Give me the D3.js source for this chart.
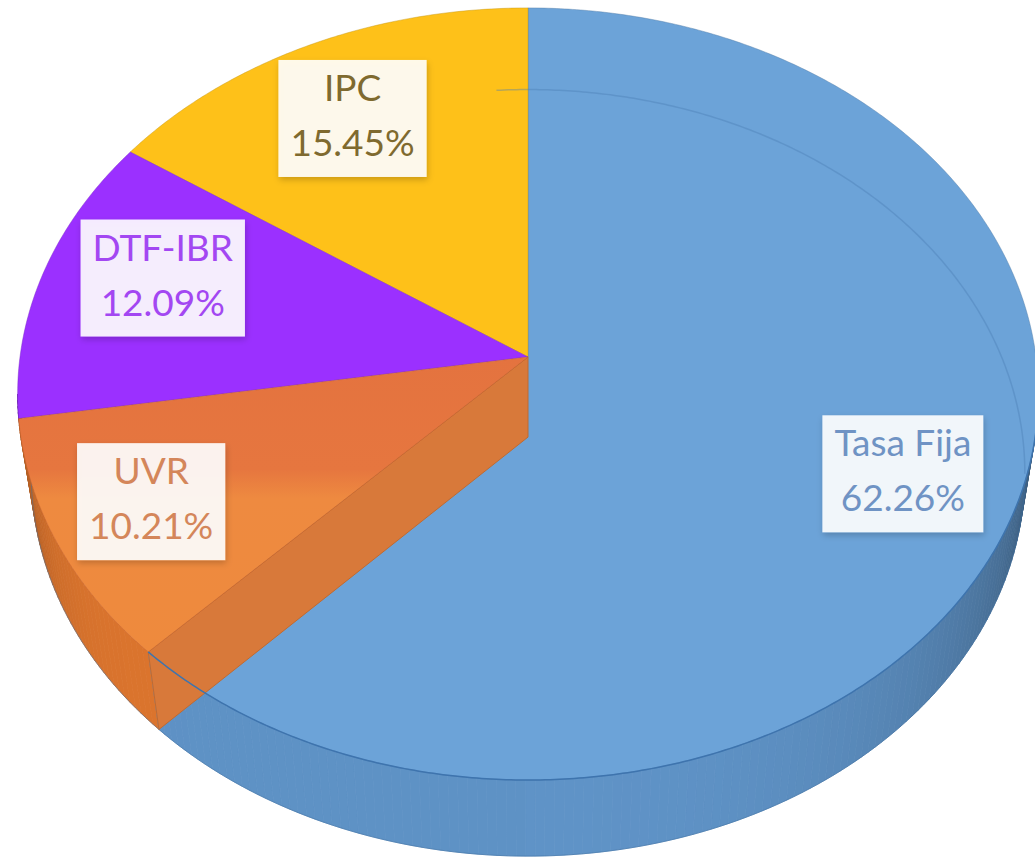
<!DOCTYPE html>
<html>
<head>
<meta charset="utf-8">
<script src="https://cdn.jsdelivr.net/npm/d3@7"></script>
<style>
  html, body { margin: 0; padding: 0; background: #ffffff; }
  svg { display: block; }
  .lbl { font-family: Lato, "Open Sans", sans-serif; font-size: 37px; }
</style>
</head>
<body>
<svg id="chart" width="1035" height="857"></svg>
<script>
// data
var categories = ['Tasa Fija', 'UVR', 'DTF-IBR', 'IPC'];
var shares = [62.26, 10.21, 12.09, 15.45];

// styles
var topColors = ['#6ca3d8', '#ea7f3f', '#9b30ff', '#fec119'];
var sideColors = ['#6196cb', '#e2782f', '#8a28e6', '#eeb010'];
var textColors = ['#6f93c4', '#d4865a', '#a347f2', '#7f6a2f'];

// perspective set-up of the tilted disc
var cx = 528, cy = 357;
var R = 500, H = 123, D = 3434, F = 3489;
var sinT = 0.753, cosT = 0.658;
var deg = Math.PI / 180;

function project(theta, r, y){
    // theta clockwise from the far side, y = 0 on the top face, negative downwards
    var X = r * Math.sin(theta), Z = r * Math.cos(theta);
    var yc = Z * sinT + y * cosT;
    var zc = D + Z * cosT - y * sinT;
    return [cx + F * X / zc, cy - F * yc / zc];
}

function arcPoints(a0, a1, r, y){
    var n = Math.max(2, Math.ceil(Math.abs(a1 - a0) / (0.5 * deg)));
    return d3.range(n + 1).map(function(i){ return project(a0 + (a1 - a0) * i / n, r, y); });
}

var line = d3.line().curve(d3.curveLinearClosed);
var openLine = d3.line();

var svg = d3.select('#chart');
var defs = svg.append('defs');
var shadow = defs.append('filter').attr('id', 'shadow')
    .attr('x', '-20%').attr('y', '-20%').attr('width', '140%').attr('height', '150%');
shadow.append('feDropShadow').attr('dx', 1).attr('dy', 3).attr('stdDeviation', 3)
    .attr('flood-color', '#000').attr('flood-opacity', 0.22);

var orangeGrad = defs.append('linearGradient').attr('id', 'orangeTop')
    .attr('x1', 0).attr('y1', 0).attr('x2', 0).attr('y2', 1);
orangeGrad.append('stop').attr('offset', '0%').attr('stop-color', '#e4733f');
orangeGrad.append('stop').attr('offset', '38%').attr('stop-color', '#e6763f');
orangeGrad.append('stop').attr('offset', '48%').attr('stop-color', '#ee8a40');
orangeGrad.append('stop').attr('offset', '100%').attr('stop-color', '#ee8a3d');

var pie = d3.pie().sort(null).value(function(d){ return d; });
var arcs = pie(shares);

// silhouette of the side wall
var silhouette = Math.acos(-R * cosT / D);
var visLo = silhouette, visHi = 2 * Math.PI - silhouette;

function sideShade(theta){
    var t = theta / deg;
    if (t < 180) return 0.06 + 1.6 * Math.pow((180 - t) / 85, 2.5);
    return 0.08 + 1.3 * Math.pow((t - 180) / 85, 7);
}

// side wall, drawn as thin quads from back to front
var sideG = svg.append('g');
var quads = [];
arcs.forEach(function(a, i){
    var a0 = Math.max(a.startAngle, visLo), a1 = Math.min(a.endAngle, visHi);
    if (a1 <= a0) return;
    var n = Math.ceil((a1 - a0) / (1 * deg));
    for (var k = 0; k < n; k++){
        var t0 = a0 + (a1 - a0) * k / n, t1 = a0 + (a1 - a0) * (k + 1) / n;
        quads.push({i: i, t0: t0, t1: t1});
    }
});
quads.sort(function(p, q){
    return Math.abs((q.t0 + q.t1) / 2 - Math.PI) - Math.abs((p.t0 + p.t1) / 2 - Math.PI);
});
sideG.selectAll('path').data(quads).enter().append('path')
    .attr('d', function(q){
        var pts = [project(q.t0, R, 0), project(q.t1, R, 0), project(q.t1, R, -H), project(q.t0, R, -H)];
        return line(pts);
    })
    .attr('fill', function(q){ return d3.color(sideColors[q.i]).darker(sideShade((q.t0 + q.t1) / 2)); })
    .attr('stroke', function(q){ return d3.color(sideColors[q.i]).darker(sideShade((q.t0 + q.t1) / 2)); })
    .attr('stroke-width', 0.8);

// bottom edge of the wall
svg.append('path')
    .attr('d', openLine(arcPoints(visLo, visHi, R, -H)))
    .attr('fill', 'none').attr('stroke', '#3f6f9f').attr('stroke-width', 1).attr('opacity', 0.5);

// top faces
var topG = svg.append('g');
function sliceTop(a){
    return line([project(0, 0, 0)].concat(arcPoints(a.startAngle, a.endAngle, R, 0)));
}
var order = [0, 3, 2];
order.forEach(function(i){
    topG.append('path').attr('d', sliceTop(arcs[i]))
        .attr('fill', topColors[i])
        .attr('stroke', d3.color(topColors[i]).darker(0.7))
        .attr('stroke-opacity', 0.45).attr('stroke-width', 1);
});

// far rim of the bottom face, faintly showing through
svg.append('path')
    .attr('d', openLine(arcPoints(-4 * deg, visLo, R, -H)))
    .attr('fill', 'none').attr('stroke', '#4a7db5').attr('stroke-width', 1.5).attr('opacity', 0.4);

// radial wall of the UVR slice facing the large slice
var cut = arcs[1].startAngle;
svg.append('path')
    .attr('d', line([project(cut, 0, 0), project(cut, R, 0), project(cut, R, -H), project(cut, 0, -H)]))
    .attr('fill', '#d8793a').attr('stroke', '#c06a30').attr('stroke-width', 1);

topG = svg.append('g');
topG.append('path').attr('d', sliceTop(arcs[1]))
    .attr('fill', 'url(#orangeTop)')
    .attr('stroke', '#c8622c').attr('stroke-opacity', 0.5).attr('stroke-width', 1);

// front rim line between top face and wall
svg.append('path')
    .attr('d', openLine(arcPoints(visLo, arcs[0].endAngle, R, 0)))
    .attr('fill', 'none').attr('stroke', '#3e74ae').attr('stroke-width', 1.5);

// labels
var labelFrac = 0.79;
var nudge = [[-8, 0], [-8, 0], [20, -14], [0, 12]];
var labelG = svg.append('g');
arcs.forEach(function(a, i){
    var mid = (a.startAngle + a.endAngle) / 2;
    var p = project(mid, R * labelFrac, 0);
    var x = p[0] + nudge[i][0], y = p[1] + nudge[i][1];
    var g = labelG.append('g').attr('transform', 'translate(' + x + ',' + y + ')');
    var rect = g.append('rect').attr('fill', '#ffffff').attr('fill-opacity', 0.9)
        .attr('filter', 'url(#shadow)');
    var t1 = g.append('text').attr('class', 'lbl').attr('text-anchor', 'middle')
        .attr('fill', textColors[i]).attr('y', -17.5).text(categories[i]);
    var t2 = g.append('text').attr('class', 'lbl').attr('text-anchor', 'middle')
        .attr('fill', textColors[i]).attr('y', 37.5).text(shares[i].toFixed(2) + '%');
    var w = Math.max(t1.node().getComputedTextLength(), t2.node().getComputedTextLength()) + 24;
    rect.attr('x', -w / 2).attr('y', -58.5).attr('width', w).attr('height', 117);
});
</script>
</body>
</html>
